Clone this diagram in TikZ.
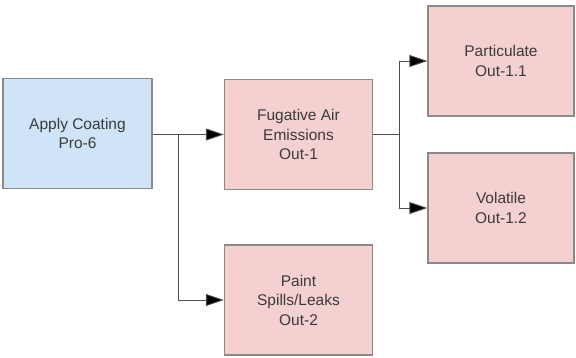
\documentclass[tikz,border=0pt]{standalone}
\usepackage{fontspec}
\setmainfont{Liberation Sans}
\usetikzlibrary{arrows.meta}
\definecolor{bluefill}{HTML}{D0E4F8}
\definecolor{pinkfill}{HTML}{F5D0D0}
\definecolor{boxline}{HTML}{8A8A8A}
\definecolor{txt}{HTML}{3A3A3A}
\definecolor{conn}{HTML}{505050}
\begin{document}
\begin{tikzpicture}[x=1pt,y=-1pt,
  box/.style={draw=boxline,line width=1.2pt,minimum width=148pt,minimum height=110pt,
    align=center,text=txt,font=\fontsize{15.5}{19.5}\selectfont,inner sep=0pt},
  procbox/.style={box,fill=bluefill},
  outbox/.style={box,fill=pinkfill},
  conline/.style={draw=conn,line width=0.9pt},
  arr/.style={conline,-{Triangle[length=18pt,width=12pt,fill=black]}}]
\useasboundingbox (0,0) rectangle (576,357);
\node[procbox,minimum width=149pt] (apply) at (77.5,133.5) {Apply Coating\\Pro-6};
\node[outbox] (fug) at (298.5,134.5) {Fugative Air\\Emissions\\Out-1};
\node[outbox] (paint) at (298.5,300) {Paint\\Spills/Leaks\\Out-2};
\node[outbox,minimum width=146pt] (part) at (501,61) {Particulate\\Out-1.1};
\node[outbox,minimum width=146pt] (vol) at (501,208) {Volatile\\Out-1.2};
\coordinate (b1) at (178,134.5);
\coordinate (b2) at (399,134.5);
\draw[conline] (apply.east |- b1) -- (b1);
\draw[arr] (b1) -- (fug.west);
\draw[arr] (b1) |- (paint.west);
\draw[conline] (fug.east) -- (b2);
\draw[arr] (b2) |- (part.west);
\draw[arr] (b2) |- (vol.west);
\end{tikzpicture}
\end{document}
